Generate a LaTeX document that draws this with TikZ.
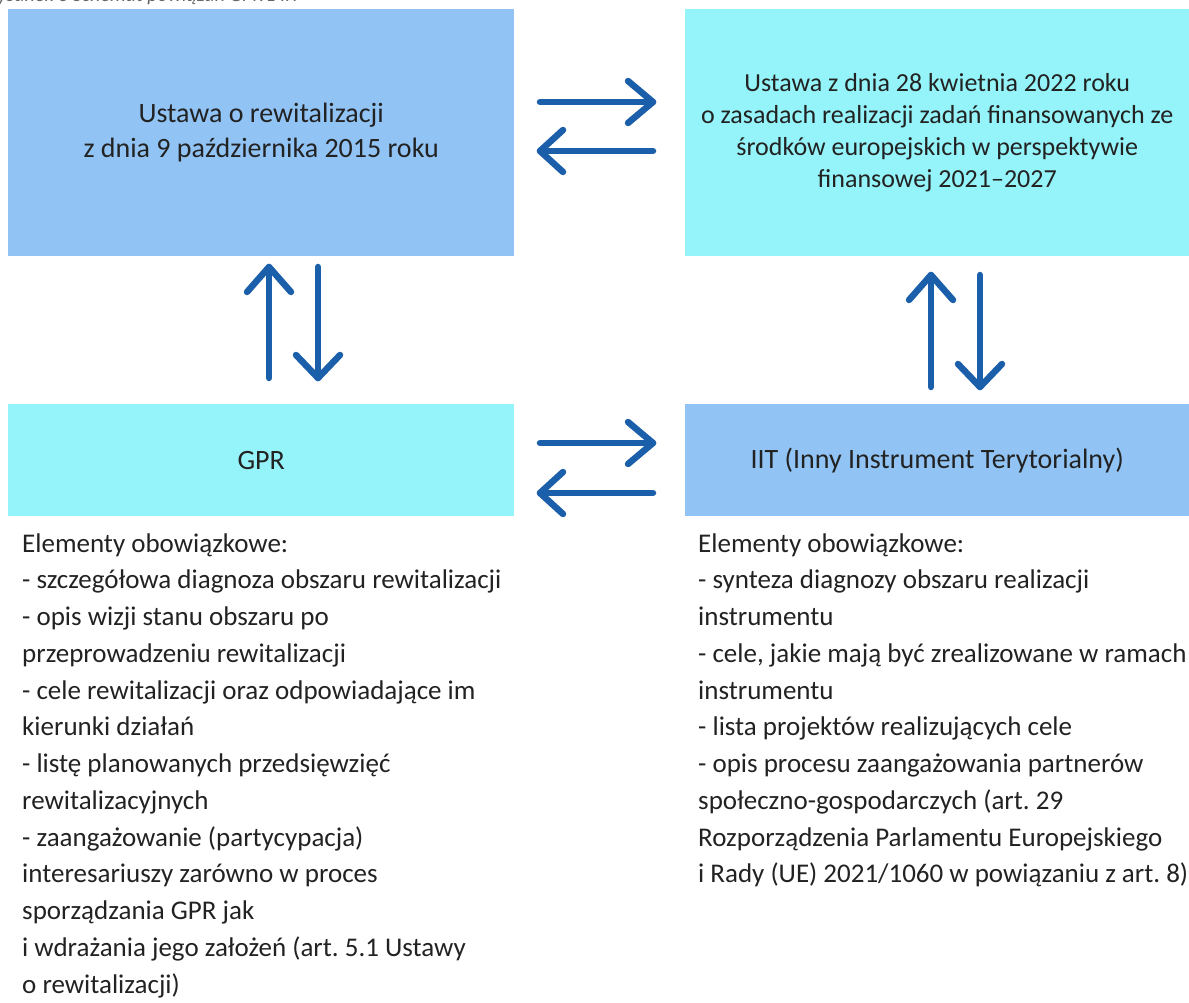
\documentclass[tikz,border=0pt]{standalone}
\usepackage{fontspec}
\setmainfont{Carlito}
\frenchspacing
\definecolor{boxblue}{HTML}{91C4F5}
\definecolor{boxcyan}{HTML}{95F4F9}
\definecolor{arrowblue}{HTML}{1B5EAA}
\definecolor{txtc}{HTML}{222222}
\tikzset{
  box/.style={draw=none, inner sep=0pt, align=center, text=txtc, anchor=north west},
  arr/.style={draw=arrowblue, line width=6.5pt, line cap=round, line join=round},
  listtxt/.style={anchor=base west, inner sep=0pt, text=txtc}
}
\begin{document}
\begin{tikzpicture}[x=1pt,y=-1pt]
\useasboundingbox (0,0) rectangle (1189,1003);
% caption (cut off at top, as in the reference)
\node[anchor=base west, inner sep=0pt, text=gray!80!black, font=\itshape\fontsize{20}{24}\selectfont] (cap) at (-13,2) {Rysunek 3 Schemat powiązań GPR z IIT};
% boxes
\node[box, fill=boxblue, minimum width=506pt, minimum height=247pt, font=\fontsize{28}{35}\selectfont] (ustawa) at (8,9)
  {Ustawa o rewitalizacji\\z dnia 9 października 2015 roku};
\node[box, fill=boxcyan, minimum width=504pt, minimum height=247pt, font=\fontsize{26}{32}\selectfont] (ustawa22) at (685,9)
  {Ustawa z dnia 28 kwietnia 2022 roku\\o zasadach realizacji zadań finansowanych ze\\środków europejskich w perspektywie\\finansowej 2021–2027};
\node[box, fill=boxcyan, minimum width=506pt, minimum height=112pt, font=\fontsize{28}{35}\selectfont] (gpr) at (8,404) {GPR};
\node[box, fill=boxblue, minimum width=504pt, minimum height=112pt, font=\fontsize{28}{35}\selectfont] (iit) at (685,404) {IIT (Inny Instrument Terytorialny)};
% lists
\node[listtxt] (gprlist) at (22,552) {\parbox[t]{500pt}{\raggedright\fontsize{27}{36.75}\selectfont
Elementy obowiązkowe:\\
- szczegółowa diagnoza obszaru rewitalizacji\\
- opis wizji stanu obszaru po\\
przeprowadzeniu rewitalizacji\\
- cele rewitalizacji oraz odpowiadające im\\
kierunki działań\\
- listę planowanych przedsięwzięć\\
rewitalizacyjnych\\
- zaangażowanie (partycypacja)\\
interesariuszy zarówno w proces\\
sporządzania GPR jak\\
i wdrażania jego założeń (art. 5.1 Ustawy\\
o rewitalizacji)}};
\node[listtxt] (iitlist) at (698,552) {\parbox[t]{490pt}{\raggedright\fontsize{27}{36.75}\selectfont
Elementy obowiązkowe:\\
- synteza diagnozy obszaru realizacji\\
instrumentu\\
- cele, jakie mają być zrealizowane w ramach\\
instrumentu\\
- lista projektów realizujących cele\\
- opis procesu zaangażowania partnerów\\
społeczno-gospodarczych (art. 29\\
Rozporządzenia Parlamentu Europejskiego\\
i Rady (UE) 2021/1060 w powiązaniu z art. 8)}};
% arrow coordinates
\coordinate (a1s) at (540,102); \coordinate (a1e) at (653,102);
\coordinate (a2s) at (653,151); \coordinate (a2e) at (540,151);
\coordinate (a3s) at (540,443); \coordinate (a3e) at (653,443);
\coordinate (a4s) at (653,493); \coordinate (a4e) at (540,493);
\coordinate (v1s) at (269,378); \coordinate (v1e) at (269,267);
\coordinate (v2s) at (318,267); \coordinate (v2e) at (318,378);
\coordinate (v3s) at (931,387); \coordinate (v3e) at (931,275);
\coordinate (v4s) at (980,275); \coordinate (v4e) at (980,387);
% horizontal arrows
\draw[arr] (a1s) -- (a1e);
\draw[arr] (a1e) ++(-25,-21) -- (a1e) -- ++(-25,21);
\draw[arr] (a2s) -- (a2e);
\draw[arr] (a2e) ++(23,-21) -- (a2e) -- ++(23,21);
\draw[arr] (a3s) -- (a3e);
\draw[arr] (a3e) ++(-25,-21) -- (a3e) -- ++(-25,21);
\draw[arr] (a4s) -- (a4e);
\draw[arr] (a4e) ++(23,-21) -- (a4e) -- ++(23,21);
% vertical arrows
\draw[arr] (v1s) -- (v1e);
\draw[arr] (v1e) ++(-22,25) -- (v1e) -- ++(22,25);
\draw[arr] (v2s) -- (v2e);
\draw[arr] (v2e) ++(-22,-23) -- (v2e) -- ++(22,-23);
\draw[arr] (v3s) -- (v3e);
\draw[arr] (v3e) ++(-22,25) -- (v3e) -- ++(22,25);
\draw[arr] (v4s) -- (v4e);
\draw[arr] (v4e) ++(-22,-23) -- (v4e) -- ++(22,-23);
\end{tikzpicture}
\end{document}
